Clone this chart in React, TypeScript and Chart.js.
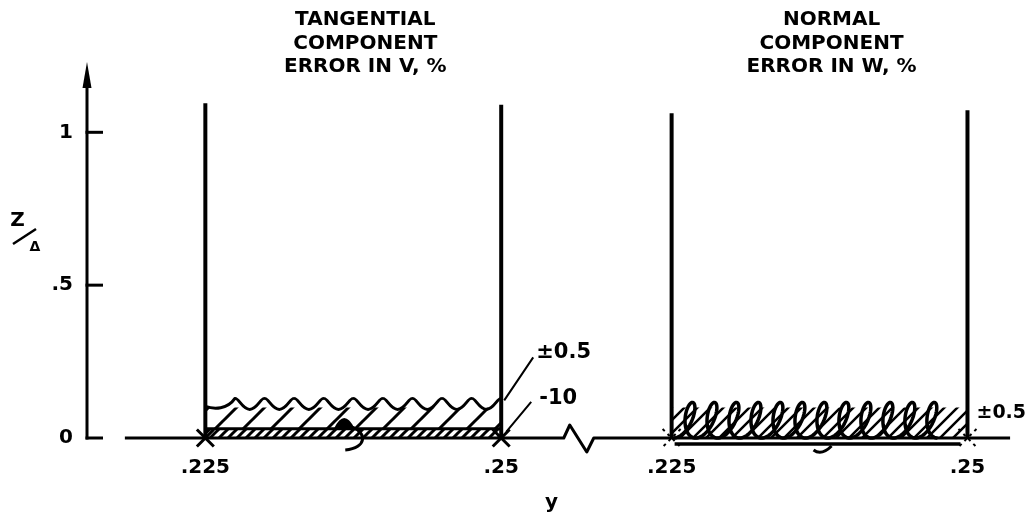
import React, { useEffect, useRef } from "react";
import { Chart, registerables } from "chart.js";

Chart.register(...registerables);

// ---- data ----
const yTickValues = [0, 0.5, 1];
const yTickLabels = ["0", ".5", "1"];
const xTickValues = [0.225, 0.25];
const xTickLabels = [".225", ".25"];
const xAxisTitle = "y";
const tangentialTitle = ["TANGENTIAL", "COMPONENT", "ERROR IN V, %"];
const normalTitle = ["NORMAL", "COMPONENT", "ERROR IN W, %"];
const tangentialWallTops = [1.095, 1.09];
const normalWallTops = [1.062, 1.072];
const tangentialBandTops = [0.03, 0.1];
const tangentialBandLabels = ["-10", "±0.5"];
const normalBandTops = [0.1];
const normalBandLabels = ["±0.5"];

// ---- axis layout (broken x axis: second panel shifted) ----
const PANEL_SHIFT = [0, 0.0394];
const X_MIN = 0.215;
const X_MAX = 0.2935;
const Y_MIN = 0;
const Y_MAX = 1.23;
const AXIS_START = 0.2182;
const AXIS_END = 0.293;
const AXIS_BREAK = 0.2563;
const FONT = "'DejaVu Sans', sans-serif";

const vx = (panel: number, x: number) => x + PANEL_SHIFT[panel];

function makeHatch(size: number, lw: number): CanvasPattern | string {
  const c = document.createElement("canvas");
  c.width = size;
  c.height = size;
  const g = c.getContext("2d");
  if (!g) return "rgba(0,0,0,0.3)";
  g.strokeStyle = "#000";
  g.lineWidth = lw;
  g.beginPath();
  for (const k of [-1, 0, 1]) {
    g.moveTo(k * size - 1, size + 1);
    g.lineTo(k * size + size + 1, -1);
  }
  g.stroke();
  return g.createPattern(c, "repeat") as CanvasPattern;
}

const decorPlugin = {
  id: "decor",
  afterDatasetsDraw(chart: any) {
    const ctx: CanvasRenderingContext2D = chart.ctx;
    const xs = chart.scales.x;
    const ys = chart.scales.y;
    const X = (v: number) => xs.getPixelForValue(v);
    const Y = (v: number) => ys.getPixelForValue(v);
    const y0 = Y(0);
    const area = chart.chartArea;
    ctx.save();
    ctx.strokeStyle = "#000";
    ctx.fillStyle = "#000";
    ctx.lineJoin = "round";
    ctx.lineCap = "butt";

    // y axis with arrow
    const ax = area.left;
    ctx.lineWidth = 3;
    ctx.beginPath();
    ctx.moveTo(ax, y0 + 1.5);
    ctx.lineTo(ax, area.top + 20);
    ctx.stroke();
    ctx.beginPath();
    ctx.moveTo(ax, area.top);
    ctx.lineTo(ax - 4.5, area.top + 26);
    ctx.lineTo(ax + 4.5, area.top + 26);
    ctx.closePath();
    ctx.fill();
    yTickValues.forEach((v) => {
      const y = Y(v);
      ctx.beginPath();
      ctx.moveTo(ax - 1.5, y);
      ctx.lineTo(ax + 16, y);
      ctx.stroke();
    });

    // x axis line with break
    const bx = X(AXIS_BREAK);
    ctx.beginPath();
    ctx.moveTo(X(AXIS_START), y0);
    ctx.lineTo(bx - 12, y0);
    ctx.lineTo(bx - 6, y0 - 13);
    ctx.lineTo(bx + 11, y0 + 14);
    ctx.lineTo(bx + 18, y0);
    ctx.lineTo(X(AXIS_END), y0);
    ctx.stroke();

    // Z / Delta axis label
    ctx.font = `bold 20px ${FONT}`;
    ctx.textAlign = "center";
    ctx.textBaseline = "middle";
    ctx.fillText("Z", 17.5, 221);
    ctx.lineWidth = 2.5;
    ctx.beginPath();
    ctx.moveTo(13, 244);
    ctx.lineTo(36, 229);
    ctx.stroke();
    ctx.font = `bold 14px ${FONT}`;
    ctx.fillText("Δ", 35, 247);

    // panel titles
    ctx.font = `bold 20px ${FONT}`;
    [tangentialTitle, normalTitle].forEach((lines, p) => {
      const cx = (X(vx(p, xTickValues[0])) + X(vx(p, xTickValues[1]))) / 2 + 12;
      lines.forEach((t, i) => ctx.fillText(t, cx, 20 + i * 23.5));
    });

    // ---- tangential panel decorations ----
    const xa = X(vx(0, xTickValues[0]));
    const xb = X(vx(0, xTickValues[1]));
    const yt = Y(tangentialBandTops[1]);
    const n = 10;
    const w = (xb - xa) / n;
    ctx.lineWidth = 3;
    ctx.beginPath();
    ctx.moveTo(xa, yt - 1);
    ctx.bezierCurveTo(xa + w * 0.3, yt + 2, xa + w * 0.75, yt + 2, xa + w, yt - 9);
    for (let i = 1; i < n; i++) {
      const x0 = xa + i * w;
      const x1 = x0 + w;
      ctx.bezierCurveTo(x0 + w * 0.12, yt - 10, x0 + w * 0.25, yt + 2, x0 + w * 0.5, yt + 2);
      ctx.bezierCurveTo(x0 + w * 0.75, yt + 2, x0 + w * 0.88, yt - 10, x1, yt - 9);
    }
    ctx.stroke();

    // hook mark in the band
    const pm = (xa + xb) / 2;
    ctx.beginPath();
    ctx.moveTo(pm - 19, y0 - 10);
    ctx.quadraticCurveTo(pm - 9, y0 - 30, pm + 1, y0 - 10);
    ctx.closePath();
    ctx.fill();
    ctx.beginPath();
    ctx.moveTo(pm - 2, y0 - 11);
    ctx.bezierCurveTo(pm + 14, y0 - 6, pm + 14, y0 + 10, pm - 8, y0 + 12);
    ctx.stroke();

    // band labels with leaders
    ctx.font = `bold 21px ${FONT}`;
    ctx.textAlign = "left";
    const yLow = Y(tangentialBandTops[0]);
    ctx.lineWidth = 2;
    ctx.beginPath();
    ctx.moveTo(xb + 3, yt - 7);
    ctx.lineTo(xb + 32, yt - 50);
    ctx.moveTo(xb + 5, yLow + 3);
    ctx.lineTo(xb + 30, yLow - 27);
    ctx.stroke();
    ctx.fillText(tangentialBandLabels[1], xb + 35, yt - 55);
    ctx.fillText(tangentialBandLabels[0], xb + 38, yLow - 30);

    // ---- normal panel decorations ----
    const xa2 = X(vx(1, xTickValues[0]));
    const xb2 = X(vx(1, xTickValues[1]));
    const yn = Y(normalBandTops[0]);
    const ls = xa2 + 2;
    const le = xb2 - 30;
    const N = 12;
    const sp = (le - ls) / N;
    const c = sp / (2 * Math.PI);
    const a = 9;
    const h = y0 - yn + 5;
    ctx.lineWidth = 3.5;
    ctx.beginPath();
    for (let k = 0; k <= N * 72; k++) {
      const t = (k / 72) * 2 * Math.PI;
      const yy = (h * (1 - Math.cos(t))) / 2;
      const x = ls + c * t + a * Math.sin(t) + yy * 0.22;
      const y = y0 - yy;
      if (k === 0) ctx.moveTo(x, y);
      else ctx.lineTo(x, y);
    }
    ctx.stroke();
    // underline
    ctx.beginPath();
    ctx.moveTo(xa2 + 3, y0 + 6);
    ctx.lineTo(xb2 - 7, y0 + 6);
    ctx.stroke();
    // small hook
    const pm2 = (xa2 + xb2) / 2;
    ctx.lineWidth = 3;
    ctx.beginPath();
    ctx.moveTo(pm2 - 6, y0 + 12);
    ctx.quadraticCurveTo(pm2 + 2, y0 + 18, pm2 + 12, y0 + 8);
    ctx.stroke();
    // faint dashed crosses at panel ends
    ctx.lineWidth = 2;
    ctx.setLineDash([3, 4]);
    [xa2, xb2].forEach((x) => {
      ctx.beginPath();
      ctx.moveTo(x - 9, y0 - 9);
      ctx.lineTo(x + 9, y0 + 9);
      ctx.moveTo(x + 9, y0 - 9);
      ctx.lineTo(x - 9, y0 + 9);
      ctx.stroke();
    });
    ctx.setLineDash([]);
    ctx.font = `bold 19px ${FONT}`;
    ctx.fillText(normalBandLabels[0], xb2 + 9, yn + 6);

    ctx.restore();
  },
};

export default function App() {
  const ref = useRef<HTMLCanvasElement | null>(null);

  useEffect(() => {
    const canvas = ref.current;
    if (!canvas) return;
    document.body.style.margin = "0";

    const coarse = makeHatch(28, 3);
    const fine = makeHatch(9, 3);
    const medium = makeHatch(13, 2.5);

    const datasets: any[] = [];
    // X marks at tangential panel ends
    datasets.push({
      data: xTickValues.map((v) => ({ x: vx(0, v), y: 0 })),
      showLine: false,
      pointStyle: "crossRot",
      pointRadius: 12,
      pointBorderWidth: 3,
      pointBorderColor: "#000",
      pointBackgroundColor: "#000",
      clip: false,
    });
    // walls
    [tangentialWallTops, normalWallTops].forEach((tops, p) => {
      xTickValues.forEach((v, i) => {
        datasets.push({
          data: [
            { x: vx(p, v), y: 0 },
            { x: vx(p, v), y: tops[i] },
          ],
          borderColor: "#000",
          borderWidth: 4,
          borderCapStyle: "butt",
          pointRadius: 0,
          fill: false,
          clip: false,
        });
      });
    });
    // tangential bands
    datasets.push({
      data: xTickValues.map((v) => ({ x: vx(0, v), y: tangentialBandTops[0] })),
      borderColor: "#000",
      borderWidth: 3,
      pointRadius: 0,
      fill: "origin",
      backgroundColor: fine,
      clip: false,
    });
    datasets.push({
      data: xTickValues.map((v) => ({ x: vx(0, v), y: tangentialBandTops[1] })),
      borderColor: "rgba(0,0,0,0)",
      borderWidth: 0,
      pointRadius: 0,
      fill: { value: tangentialBandTops[0] },
      backgroundColor: coarse,
      clip: false,
    });
    // normal band
    datasets.push({
      data: xTickValues.map((v) => ({ x: vx(1, v), y: normalBandTops[0] })),
      borderColor: "rgba(0,0,0,0)",
      borderWidth: 0,
      pointRadius: 0,
      fill: "origin",
      backgroundColor: medium,
      clip: false,
    });

    const tickFont = { family: FONT, size: 20, weight: "bold" as const };

    const chart = new Chart(canvas, {
      type: "line",
      data: { datasets },
      options: {
        animation: false,
        responsive: false,
        maintainAspectRatio: false,
        events: [],
        layout: { padding: { top: 62, right: 6, left: 0, bottom: 0 } },
        plugins: {
          legend: { display: false },
          tooltip: { enabled: false },
        },
        scales: {
          x: {
            type: "linear",
            min: X_MIN,
            max: X_MAX,
            grid: { display: false, drawTicks: false },
            border: { display: false },
            afterBuildTicks: (s: any) => {
              s.ticks = [0, 1].flatMap((p) => xTickValues.map((v) => ({ value: vx(p, v) })));
            },
            afterFit: (s: any) => {
              s.height = 83;
            },
            ticks: {
              autoSkip: false,
              maxRotation: 0,
              minRotation: 0,
              padding: 18,
              color: "#000",
              font: tickFont,
              callback: (_v: any, i: number) => xTickLabels[i % 2],
            },
            title: {
              display: true,
              text: xAxisTitle,
              color: "#000",
              font: tickFont,
              padding: { top: 0, bottom: 6 },
            },
          },
          y: {
            type: "linear",
            min: Y_MIN,
            max: Y_MAX,
            grid: { display: false, drawTicks: false },
            border: { display: false },
            afterBuildTicks: (s: any) => {
              s.ticks = yTickValues.map((v) => ({ value: v }));
            },
            afterFit: (s: any) => {
              s.width = 87;
            },
            ticks: {
              autoSkip: false,
              padding: 14,
              color: "#000",
              font: tickFont,
              callback: (_v: any, i: number) => yTickLabels[i],
            },
          },
        },
      },
      plugins: [decorPlugin],
    });

    return () => chart.destroy();
  }, []);

  return (
    <div style={{ position: "absolute", left: 0, top: 0, width: 1031, height: 521, background: "#fff" }}>
      <canvas ref={ref} width={1031} height={521} />
    </div>
  );
}
